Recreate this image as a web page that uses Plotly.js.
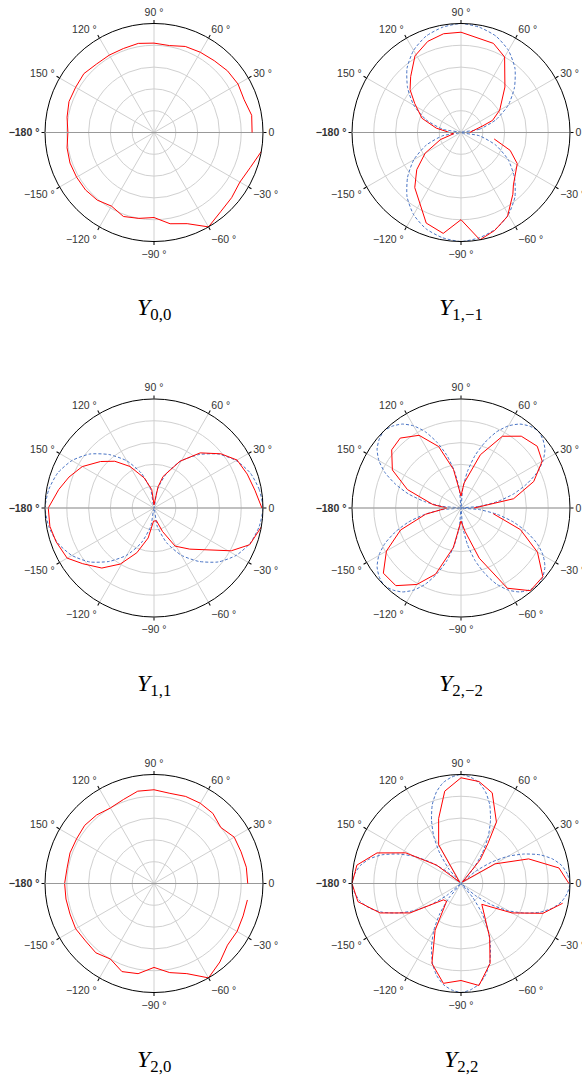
<!DOCTYPE html>
<html>
<head>
<meta charset="utf-8">
<script src="https://cdn.plot.ly/plotly-3.0.1.min.js"></script>
<style>
  html, body { margin: 0; padding: 0; background: #fff; }
  #plot { width: 582px; height: 1075px; }
</style>
</head>
<body>
<div id="plot"></div>
<script>
// panel titles
const panelNames = ['0,0', '1,\u22121', '1,1', '2,\u22122', '2,0', '2,2'];

// angular ticks
const angleTicks = [0, 30, 60, 90, 120, 150, 180, 210, 240, 270, 300, 330];
const angleLabels = ['0', '30 \u00b0', '60 \u00b0', '90 \u00b0', '120 \u00b0', '150 \u00b0', '<b>\u2212180 \u00b0</b>',
    '\u2212150 \u00b0', '\u2212120 \u00b0', '\u221290 \u00b0', '\u221260 \u00b0', '\u221230 \u00b0'];
const radialTicks = [0.2, 0.4, 0.6, 0.8, 1.0];

// measured patterns (red)
const thetaStep10 = [0, 10, 20, 30, 40, 50, 60, 70, 80, 90, 100, 110, 120, 130, 140, 150, 160, 170,
    180, 190, 200, 210, 220, 230, 240, 250, 260, 270, 280, 290, 300, 310, 320, 330, 340, 350];

const rMeas00 = [0.90, 0.91, 0.88, 0.89, 0.88, 0.86, 0.85, 0.84, 0.81, 0.82, 0.83, 0.82, 0.82, 0.82, 0.84, 0.83, 0.83, 0.81,
    0.79, 0.81, 0.82, 0.82, 0.82, 0.81, 0.78, 0.82, 0.80, 0.78, 0.85, 0.89, 1.00, 0.95, 0.93, 0.91, 0.94, 1.00];

const thetaMeas1m1 = [0, 17, 21, 30, 46, 60, 70, 90, 100, 110, 121, 132, 140, 148, 160, 170, 190, 199,
    210, 220, 230, 249, 260, 270, 280, 289, 299, 310, 315, 331, 340, 349];
const rMeas1m1 = [0.08, 0.21, 0.31, 0.41, 0.58, 0.80, 0.87, 0.92, 0.92, 0.89, 0.82, 0.69, 0.61, 0.50, 0.38, 0.23, 0.07, 0.20,
    0.38, 0.53, 0.66, 0.89, 0.94, 0.80, 1.00, 0.95, 0.88, 0.74, 0.68, 0.59, 0.48, 0.31];

const thetaMeas11 = [0, 10, 20, 30, 39, 50, 61, 74, 79, 90, 97, 108, 120, 130, 139, 150, 160, 169, 180, 190, 199,
    210, 218, 229, 239, 249, 259, 268, 281, 290, 299, 311, 331, 339, 350];
const rMeas11 = [0.99, 0.94, 0.91, 0.88, 0.79, 0.66, 0.49, 0.30, 0.20, 0.03, 0.17, 0.29, 0.44, 0.56, 0.65, 0.76, 0.83, 0.89, 0.97, 0.97, 0.95,
    0.92, 0.83, 0.73, 0.60, 0.44, 0.28, 0.12, 0.12, 0.23, 0.40, 0.50, 0.81, 0.94, 1.00];

const thetaMeas2m2 = [0, 10, 20, 30, 39, 50, 60, 70, 83, 90, 101, 110, 120, 131, 140, 151, 161, 173,
    180, 190, 200, 210, 220, 230, 240, 249, 259, 270, 280, 290, 300, 310, 320, 330, 340, 350];
const rMeas2m2 = [0.12, 0.49, 0.71, 0.86, 0.90, 0.86, 0.76, 0.52, 0.23, 0.11, 0.36, 0.60, 0.77, 0.85, 0.83, 0.72, 0.52, 0.26,
    0.13, 0.33, 0.59, 0.79, 0.93, 0.93, 0.81, 0.65, 0.37, 0.12, 0.22, 0.49, 0.85, 0.99, 0.98, 0.81, 0.58, 0.30];

const rMeas20 = [0.86, 0.86, 0.85, 0.85, 0.80, 0.84, 0.85, 0.85, 0.84, 0.86, 0.86, 0.82, 0.80, 0.82, 0.83, 0.82, 0.82, 0.81,
    0.82, 0.82, 0.82, 0.83, 0.82, 0.83, 0.80, 0.86, 0.84, 0.77, 0.83, 0.88, 1.00, 0.94, 0.88, 0.88, 0.87, 0.87];

const thetaMeas22 = [0, 9, 20, 30, 45, 51, 56, 60, 71, 80, 90, 100, 109, 120, 135, 143, 151, 160, 170,
    180, 190, 200, 210, 223, 231, 241, 250, 260, 270, 280, 290, 298, 315, 330, 340, 349];
const rMeas22 = [0.99, 0.91, 0.66, 0.36, 0.02, 0.28, 0.44, 0.65, 0.88, 0.95, 0.97, 0.86, 0.63, 0.41, 0.02, 0.28, 0.58, 0.82, 0.97,
    1.00, 0.96, 0.79, 0.54, 0.22, 0.21, 0.49, 0.78, 0.93, 0.89, 0.95, 0.78, 0.56, 0.27, 0.54, 0.80, 0.95];

// theoretical patterns (blue dashed)
const thetaTheo10 = [0, 10, 20, 30, 40, 50, 60, 70, 80, 90, 100, 110, 120, 130, 140, 150, 160, 170,
    180, 190, 200, 210, 220, 230, 240, 250, 260, 270, 280, 290, 300, 310, 320, 330, 340, 350, 360];
const rTheo1m1 = [0, 0.17, 0.34, 0.50, 0.64, 0.77, 0.87, 0.94, 0.98, 1, 0.98, 0.94, 0.87, 0.77, 0.64, 0.50, 0.34, 0.17,
    0, 0.17, 0.34, 0.50, 0.64, 0.77, 0.87, 0.94, 0.98, 1, 0.98, 0.94, 0.87, 0.77, 0.64, 0.50, 0.34, 0.17, 0];
const rTheo11 = [1, 0.98, 0.94, 0.87, 0.77, 0.64, 0.50, 0.34, 0.17, 0, 0.17, 0.34, 0.50, 0.64, 0.77, 0.87, 0.94, 0.98,
    1, 0.98, 0.94, 0.87, 0.77, 0.64, 0.50, 0.34, 0.17, 0, 0.17, 0.34, 0.50, 0.64, 0.77, 0.87, 0.94, 0.98, 1];

const thetaTheo5 = [0, 5, 10, 15, 20, 25, 30, 35, 40, 45, 50, 55, 60, 65, 70, 75, 80, 85,
    90, 95, 100, 105, 110, 115, 120, 125, 130, 135, 140, 145, 150, 155, 160, 165, 170, 175,
    180, 185, 190, 195, 200, 205, 210, 215, 220, 225, 230, 235, 240, 245, 250, 255, 260, 265,
    270, 275, 280, 285, 290, 295, 300, 305, 310, 315, 320, 325, 330, 335, 340, 345, 350, 355, 360];
const rTheo2m2 = [0, 0.17, 0.34, 0.50, 0.64, 0.77, 0.87, 0.94, 0.98, 1, 0.98, 0.94, 0.87, 0.77, 0.64, 0.50, 0.34, 0.17,
    0, 0.17, 0.34, 0.50, 0.64, 0.77, 0.87, 0.94, 0.98, 1, 0.98, 0.94, 0.87, 0.77, 0.64, 0.50, 0.34, 0.17,
    0, 0.17, 0.34, 0.50, 0.64, 0.77, 0.87, 0.94, 0.98, 1, 0.98, 0.94, 0.87, 0.77, 0.64, 0.50, 0.34, 0.17,
    0, 0.17, 0.34, 0.50, 0.64, 0.77, 0.87, 0.94, 0.98, 1, 0.98, 0.94, 0.87, 0.77, 0.64, 0.50, 0.34, 0.17, 0];
const rTheo22 = [1, 0.98, 0.94, 0.87, 0.77, 0.64, 0.50, 0.34, 0.17, 0, 0.17, 0.34, 0.50, 0.64, 0.77, 0.87, 0.94, 0.98,
    1, 0.98, 0.94, 0.87, 0.77, 0.64, 0.50, 0.34, 0.17, 0, 0.17, 0.34, 0.50, 0.64, 0.77, 0.87, 0.94, 0.98,
    1, 0.98, 0.94, 0.87, 0.77, 0.64, 0.50, 0.34, 0.17, 0, 0.17, 0.34, 0.50, 0.64, 0.77, 0.87, 0.94, 0.98,
    1, 0.98, 0.94, 0.87, 0.77, 0.64, 0.50, 0.34, 0.17, 0, 0.17, 0.34, 0.50, 0.64, 0.77, 0.87, 0.94, 0.98, 1];

const W = 582, H = 1075, R = 109;
// panel centres in px
const centresX = [154, 461];
const centresY = [132.5, 508, 883.5];
const labelOffset = 177;

function measTrace(theta, r, n) {
    return {
        type: 'scatterpolar', mode: 'lines', theta: theta, r: r, subplot: 'polar' + n,
        line: { color: '#ff0000', width: 1 }, hoverinfo: 'skip', showlegend: false
    };
}

function theoTrace(theta, r, n) {
    return {
        type: 'scatterpolar', mode: 'lines', theta: theta, r: r, subplot: 'polar' + n,
        line: { color: '#4a74c4', width: 1, dash: '3px,2px', shape: 'spline', smoothing: 0.6 },
        hoverinfo: 'skip', showlegend: false
    };
}

function polarLayout(cx, cy, top) {
    const dom = {
        x: [(cx - R) / W, (cx + R) / W],
        y: [1 - (cy + R) / H, 1 - (cy - R) / H]
    };
    if (top) {
        // overlay only draws the axis line towards 180 degrees
        return {
            domain: dom, bgcolor: 'rgba(0,0,0,0)',
            angularaxis: { showgrid: false, showline: false, showticklabels: false, ticks: '' },
            radialaxis: { range: [0, 1], angle: 180, showgrid: false, showticklabels: false, ticks: '',
                showline: true, linecolor: '#999', linewidth: 1 }
        };
    }
    return {
        domain: dom, bgcolor: '#fff',
        angularaxis: {
            tickmode: 'array', tickvals: angleTicks, ticktext: angleLabels,
            direction: 'counterclockwise', rotation: 0,
            showline: true, linecolor: '#000', linewidth: 1,
            ticks: 'outside', ticklen: 3, tickcolor: '#000',
            gridcolor: '#d0d0d0', gridwidth: 1,
            tickfont: { family: 'Liberation Sans, Arial, sans-serif', size: 10.5, color: '#333' }
        },
        radialaxis: {
            range: [0, 1], angle: 0, tickmode: 'array', tickvals: radialTicks,
            showticklabels: false, ticks: '', gridcolor: '#d0d0d0', gridwidth: 1,
            showline: true, linecolor: '#999', linewidth: 1, layer: 'below traces'
        }
    };
}

function buildChart() {
    const traces = [
        measTrace(thetaStep10, rMeas00, 1),
        theoTrace(thetaTheo10, rTheo1m1, 2),
        measTrace(thetaMeas1m1, rMeas1m1, 2),
        theoTrace(thetaTheo10, rTheo11, 3),
        measTrace(thetaMeas11, rMeas11, 3),
        theoTrace(thetaTheo5, rTheo2m2, 4),
        measTrace(thetaMeas2m2, rMeas2m2, 4),
        measTrace(thetaStep10, rMeas20, 5),
        theoTrace(thetaTheo5, rTheo22, 6),
        measTrace(thetaMeas22, rMeas22, 6)
    ];

    const layout = {
        width: W, height: H,
        margin: { l: 0, r: 0, t: 0, b: 0 },
        paper_bgcolor: '#fff',
        showlegend: false,
        annotations: []
    };

    for (let i = 0; i < 6; i++) {
        const cx = centresX[i % 2];
        const cy = centresY[Math.floor(i / 2)];
        const key = i === 0 ? 'polar' : 'polar' + (i + 1);
        layout[key] = polarLayout(cx, cy, false);
        layout['polar' + (i + 7)] = polarLayout(cx, cy, true);
        traces.push({ type: 'scatterpolar', r: [], theta: [], subplot: 'polar' + (i + 7), showlegend: false });

        layout.annotations.push({
            text: '<i>Y</i><sub>' + panelNames[i] + '</sub>',
            x: cx / W, y: 1 - (cy + labelOffset) / H,
            xref: 'paper', yref: 'paper', xanchor: 'center', yanchor: 'middle',
            showarrow: false,
            font: { family: 'Liberation Serif, Times New Roman, serif', size: 24, color: '#000' }
        });
    }
    // first subplot id is plain 'polar'
    traces.forEach(t => { if (t.subplot === 'polar1') t.subplot = 'polar'; });

    Plotly.newPlot('plot', traces, layout, { staticPlot: true, displayModeBar: false });
}

buildChart();
</script>
</body>
</html>
